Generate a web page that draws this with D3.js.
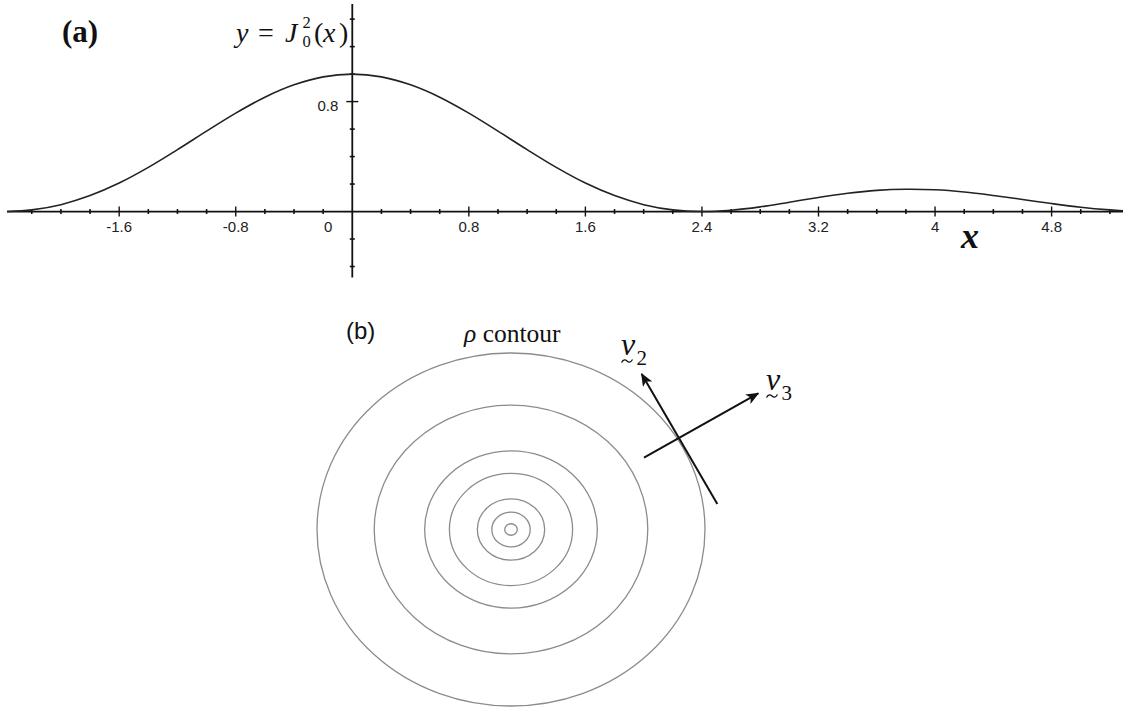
<!DOCTYPE html>
<html><head><meta charset="utf-8">
<script src="https://cdn.jsdelivr.net/npm/d3@7"></script>
<style>
body{margin:0;background:#fff}
.serif{font-family:"Liberation Serif","Times New Roman",Times,serif}
.sans{font-family:"Liberation Sans",Arial,Helvetica,sans-serif}
</style>
</head><body>
<svg id="chart" width="1143" height="709"></svg>
<script>
// ---------- Panel (a) data: y = J0^2(x) ----------
const curveX = [-2.37,-2.2,-2.0,-1.8,-1.6,-1.4,-1.2,-1.0,-0.8,-0.6,-0.4,-0.2,0,
                0.2,0.4,0.6,0.8,1.0,1.2,1.4,1.6,1.8,2.0,2.2,2.4,2.6,2.8,3.0,3.2,3.4,3.6,3.8,
                4.0,4.2,4.4,4.6,4.8,5.0,5.2,5.29];
const curveY = [0.0001,0.012,0.050,0.116,0.207,0.321,0.450,0.585,0.716,0.832,0.922,0.980,1.0,
                0.980,0.922,0.832,0.716,0.585,0.450,0.321,0.207,0.116,0.050,0.012,0.000,0.0094,0.034,0.068,0.1025,0.133,0.154,0.162,
                0.158,0.142,0.117,0.088,0.058,0.0315,0.0121,0.006];
const xMinorTicks = [-2.2,-2.0,-1.8,-1.4,-1.2,-1.0,-0.6,-0.4,-0.2,0.2,0.4,0.6,1.0,1.2,1.4,1.8,2.0,2.2,
                     2.6,2.8,3.0,3.4,3.6,3.8,4.2,4.4,4.6,5.0,5.2];
const xMajorTicks = [-1.6,-0.8,0.8,1.6,2.4,3.2,4,4.8];
const xTickLabels = ["-1.6","-0.8","0","0.8","1.6","2.4","3.2","4","4.8"];
const xTickLabelValues = [-1.6,-0.8,0,0.8,1.6,2.4,3.2,4,4.8];
const yMinorTicks = [-0.4,-0.2,0.2,0.4,0.6,1.0,1.2,1.4];
const yMajorTicks = [0.8];
const yTickLabels = ["0.8"];

// ---------- Panel (b) data ----------
const contourRadii = [2.0,1.41,0.89,0.635,0.347,0.198,0.065];
const arrowNames = ["2","3"];
const arrowTailX = [2.127,1.371];
const arrowTailY = [0.289,0.814];
const arrowHeadX = [1.347,2.549];
const arrowHeadY = [1.762,1.543];

const svg = d3.select("#chart");

// ---------- Panel (a) ----------
const x = d3.scaleLinear().domain([-2.37,5.29]).range([7,1123]);
const y = d3.scaleLinear().domain([-0.48,1.51]).range([277.5,4]);
const ga = svg.append("g");

ga.append("line").attr("x1",x(-2.37)).attr("x2",x(5.29)).attr("y1",y(0)).attr("y2",y(0))
  .attr("stroke","#111").attr("stroke-width",1.8);
ga.append("line").attr("x1",x(0)).attr("x2",x(0)).attr("y1",y(1.51)).attr("y2",y(-0.48))
  .attr("stroke","#111").attr("stroke-width",1.8);

ga.selectAll(".xmin").data(xMinorTicks).join("line")
  .attr("x1",d=>x(d)).attr("x2",d=>x(d)).attr("y1",y(0)-2.5).attr("y2",y(0)+2.5)
  .attr("stroke","#111").attr("stroke-width",1.6);
ga.selectAll(".xmaj").data(xMajorTicks).join("line")
  .attr("x1",d=>x(d)).attr("x2",d=>x(d)).attr("y1",y(0)-5).attr("y2",y(0)+5)
  .attr("stroke","#111").attr("stroke-width",1.4);
ga.selectAll(".xlab").data(xTickLabelValues).join("text").attr("class","sans")
  .attr("x",d=>d===0 ? x(d)-24 : x(d)).attr("y",y(0)+20.5)
  .attr("text-anchor","middle").style("font-size","15px").attr("fill","#222")
  .text((d,i)=>xTickLabels[i]);

ga.selectAll(".ymin").data(yMinorTicks).join("line")
  .attr("x1",x(0)-2.5).attr("x2",x(0)+2.5).attr("y1",d=>y(d)).attr("y2",d=>y(d))
  .attr("stroke","#111").attr("stroke-width",1.6);
ga.selectAll(".ymaj").data(yMajorTicks).join("line")
  .attr("x1",x(0)-6).attr("x2",x(0)+6).attr("y1",d=>y(d)).attr("y2",d=>y(d))
  .attr("stroke","#111").attr("stroke-width",1.4);
ga.selectAll(".ylab").data(yMajorTicks).join("text").attr("class","sans")
  .attr("x",x(0)-14).attr("y",d=>y(d)+9.5)
  .attr("text-anchor","end").style("font-size","15px").attr("fill","#222")
  .text((d,i)=>yTickLabels[i]);

const line = d3.line().x(d=>x(d[0])).y(d=>y(d[1])).curve(d3.curveCatmullRom.alpha(0.5));
ga.append("path").datum(curveX.map((v,i)=>[v,curveY[i]]))
  .attr("d",line).attr("fill","none").attr("stroke","#222").attr("stroke-width",1.6);

ga.append("text").attr("class","serif").attr("x",62).attr("y",41.5)
  .style("font-weight","bold").style("font-size","31px").attr("fill","#111").text("(a)");

// formula y = J0^2(x)
const fm = ga.append("text").attr("class","serif").attr("y",41.5).style("font-size","28px").attr("fill","#111");
fm.append("tspan").attr("x",236).style("font-style","italic").text("y");
fm.append("tspan").attr("x",258).text("=");
fm.append("tspan").attr("x",285).style("font-style","italic").text("J");
fm.append("tspan").attr("x",302.5).attr("y",27.5).style("font-size","16.5px").text("2");
fm.append("tspan").attr("x",314).attr("y",41.5).text("(");
fm.append("tspan").attr("x",323).style("font-style","italic").text("x");
fm.append("tspan").attr("x",339).text(")");
ga.append("text").attr("class","serif").attr("x",302.5).attr("y",46.5)
  .style("font-size","16.5px").attr("fill","#111").text("0");

ga.append("text").attr("class","serif").attr("x",961).attr("y",248).style("font-style","italic")
  .style("font-weight","bold").style("font-size","36px").attr("fill","#111").text("x");

// ---------- Panel (b) ----------
const xb = d3.scaleLinear().domain([-2,2]).range([317,705]);
const yb = d3.scaleLinear().domain([-2,2]).range([706,353]);
const gb = svg.append("g");

gb.selectAll("ellipse").data(contourRadii).join("ellipse")
  .attr("cx",xb(0)).attr("cy",yb(0))
  .attr("rx",d=>xb(d)-xb(0)).attr("ry",d=>yb(0)-yb(d))
  .attr("fill","none").attr("stroke","#8c8c8c").attr("stroke-width",1.3);

svg.append("defs").append("marker").attr("id","ah")
  .attr("viewBox","0 0 12 10").attr("refX",11).attr("refY",5)
  .attr("markerWidth",13).attr("markerHeight",11).attr("markerUnits","userSpaceOnUse")
  .attr("orient","auto")
  .append("path").attr("d","M0,0 L12,5 L0,10 L3,5 Z").attr("fill","#111");

gb.selectAll(".arrow").data(arrowNames).join("line")
  .attr("x1",(d,i)=>xb(arrowTailX[i])).attr("y1",(d,i)=>yb(arrowTailY[i]))
  .attr("x2",(d,i)=>xb(arrowHeadX[i])).attr("y2",(d,i)=>yb(arrowHeadY[i]))
  .attr("stroke","#111").attr("stroke-width",2).attr("marker-end","url(#ah)");

gb.append("text").attr("class","sans").attr("x",346).attr("y",338.5).style("font-size","24px")
  .attr("fill","#111").text("(b)");
const rc = gb.append("text").attr("class","serif").attr("x",464).attr("y",342).style("font-size","25.5px").attr("fill","#111");
rc.append("tspan").style("font-style","italic").text("ρ");
rc.append("tspan").text(" contour");

function vecLabel(px,py,sub){
  const t = gb.append("text").attr("class","serif").attr("y",py).style("font-size","32px").attr("fill","#111");
  t.append("tspan").attr("x",px).style("font-style","italic").text("v");
  t.append("tspan").attr("x",px+15.5).attr("y",py+10).style("font-size","21px").text(sub);
  // under-tilde
  const p = d3.path();
  p.moveTo(px+0.5, py+7.5);
  p.bezierCurveTo(px+2.5, py+4, px+4.5, py+4.5, px+6, py+6);
  p.bezierCurveTo(px+7.5, py+7.5, px+9.5, py+8, px+11.5, py+4.5);
  gb.append("path").attr("d",p.toString()).attr("fill","none").attr("stroke","#111").attr("stroke-width",1.3);
}
vecLabel(621,355,"2");
vecLabel(766,390,"3");
</script>
</body></html>
